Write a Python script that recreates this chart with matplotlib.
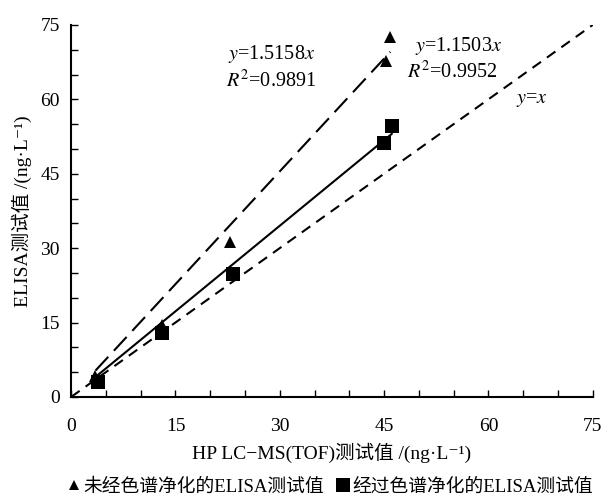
import numpy as np
import matplotlib.pyplot as plt
from matplotlib.lines import Line2D

plt.rcParams['font.family'] = ['Liberation Serif', 'Noto Sans CJK SC', 'DejaVu Sans']
plt.rcParams['mathtext.fontset'] = 'stix'

# values
x_raw = [3.5, 13.1, 22.9, 45.2, 45.9]
y_raw = [4.2, 14.4, 31.2, 67.8, 72.5]
x_pur = [3.8, 13.1, 23.2, 45.0, 46.1]
y_pur = [3.0, 12.9, 24.7, 51.1, 54.6]
k_raw, r2_raw = 1.5158, 0.9891
k_pur, r2_pur = 1.1503, 0.9952
ticks = [0, 15, 30, 45, 60, 75]

fig = plt.figure(figsize=(6.03, 4.98), dpi=100)
ax = fig.add_axes([0.118, 0.203, 0.865, 0.747])

# reference line y = x
xx = np.array([0, 75])
ax.plot(xx, xx, color='black', lw=1.5, dashes=(5, 3.5))

# fitted lines
xf = np.array([min(x_raw), max(x_raw)])
ax.plot(xf, k_raw * xf, color='black', lw=1.5, dashes=(9, 4))
xf2 = np.array([min(x_pur), max(x_pur)])
ax.plot(xf2, k_pur * xf2, color='black', lw=1.5)

ax.plot(x_raw, y_raw, '^', color='black', ms=8, mew=0, ls='none')
ax.plot(x_pur, y_pur, 's', color='black', ms=9.5, mew=0, ls='none')

fs = 14.5
ax.text(22.5, 69.1, r'$y$=%.4f$x$' % k_raw, fontsize=fs, va='center')
ax.text(22.2, 63.6, r'$R^2$=%.4f' % r2_raw, fontsize=fs, va='center')
ax.text(49.4, 70.7, r'$y$=%.4f$x$' % k_pur, fontsize=fs, va='center')
ax.text(48.3, 65.5, r'$R^2$=%.4f' % r2_pur, fontsize=fs, va='center')
ax.text(64.0, 60.0, r'$y$=$x$', fontsize=fs, va='center')

ax.set_xlim(0, 75)
ax.set_ylim(0, 75)
ax.set_xticks(ticks)
ax.set_yticks(ticks)
ax.set_xticks(np.arange(0, 76, 5), minor=True)
ax.set_yticks(np.arange(0, 76, 5), minor=True)
ax.tick_params(which='both', direction='in', length=5, width=1)
ax.tick_params(axis='x', which='major', pad=15, labelsize=14)
ax.tick_params(axis='y', which='major', pad=8, labelsize=14)
for s in ['top', 'right']:
    ax.spines[s].set_visible(False)
for s in ['left', 'bottom']:
    ax.spines[s].set_linewidth(1.5)

ax.set_xlabel('HP LC\u2212MS(TOF)测试值 /(ng·L\u207b\u00b9)', fontsize=14, labelpad=6)
ax.set_ylabel('ELISA测试值 /(ng·L\u207b\u00b9)', fontsize=14, labelpad=6)

handles = [Line2D([], [], marker='^', color='black', ls='none', ms=7, mew=0),
           Line2D([], [], marker='s', color='black', ls='none', ms=10, mew=0)]
fig.legend(handles, ['未经色谱净化的ELISA测试值', '经过色谱净化的ELISA测试值'],
           loc='center', bbox_to_anchor=(0.545, 0.022), ncol=2, frameon=False,
           fontsize=13.5, handletextpad=0.0, columnspacing=0.5, handlelength=1.0)

fig.savefig('out.png', dpi=100)
